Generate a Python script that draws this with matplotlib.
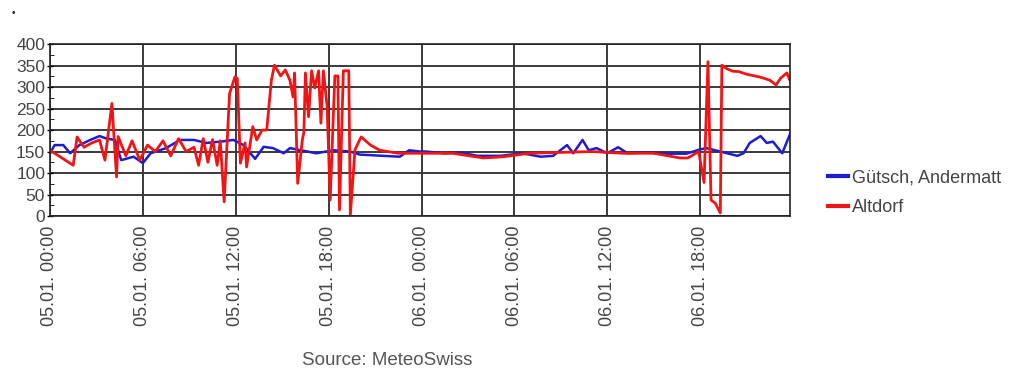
import matplotlib.pyplot as plt
from matplotlib.ticker import MultipleLocator

# hours since 05.01. 00:00
guetsch_t = [0, 0.3, 0.86, 1.3, 1.9, 2.6, 3.2, 3.66, 4.2, 4.6, 5.4, 6.0, 6.5, 7.5, 8.4,
             9.3, 10.1, 11.0, 11.85, 12.5, 13.25, 13.8, 14.4, 15.1, 15.5, 16.2, 17.2,
             18.3, 19.4, 20.0, 21.5, 22.6, 23.2, 23.9, 24.3, 25.5, 26.5, 27.6, 29.1,
             30.5, 31.7, 32.5, 33.4, 33.8, 34.4, 34.8, 35.3, 36.0, 36.7, 37.3, 38.5,
             39.85, 41.1, 42.0, 42.4, 43.3, 44.4, 44.8, 45.2, 45.9, 46.3, 46.7, 47.3, 47.83]
guetsch_v = [146, 165, 165, 146, 165, 177, 186, 180, 177, 130, 138, 123, 146, 158, 177,
             177, 170, 173, 177, 165, 133, 161, 158, 146, 158, 153, 146,
             153, 150, 143, 140, 138, 153, 150, 150, 146, 148, 140, 140,
             146, 138, 140, 165, 146, 177, 153, 158, 146, 160, 146, 148,
             145, 145, 155, 158, 150, 140, 146, 170, 186, 170, 173, 146, 193]

altdorf_t = [0, 1.5, 1.75, 2.2, 2.7, 3.2, 3.55, 4.0, 4.3, 4.4, 4.9, 5.3, 5.8, 6.3, 6.8,
             7.3, 7.8, 8.3, 8.8, 9.3, 9.6, 9.9, 10.2, 10.5, 10.8, 11.0, 11.25, 11.6,
             11.95, 12.1, 12.3, 12.6, 12.7, 13.1, 13.35, 13.7, 14.0, 14.3, 14.5, 14.9,
             15.2, 15.5, 15.7, 15.8, 16.0, 16.3, 16.4, 16.5, 16.7, 16.9, 17.1, 17.35,
             17.5, 17.66, 17.9, 18.1, 18.4, 18.6, 18.7, 18.95, 19.3, 19.4, 19.7, 20.1,
             20.7, 21.3, 22.5, 24.0, 26.0, 28.0, 29.3, 31.0, 33.0, 35.0, 37.0, 39.0,
             40.7, 41.2, 41.9, 42.25, 42.5, 42.7, 42.97, 43.3, 43.4, 43.7, 44.1, 44.5,
             45.0, 45.9, 46.5, 46.9, 47.2, 47.6, 47.83]
altdorf_v = [153, 118, 184, 160, 170, 177, 130, 262, 91, 185, 140, 175, 130, 165, 150,
             175, 140, 180, 150, 160, 118, 180, 125, 178, 118, 175, 33, 285,
             324, 320, 123, 170, 114, 208, 177, 200, 200, 316, 351, 326,
             340, 316, 277, 333, 76, 177, 195, 333, 231, 338, 298, 338,
             216, 338, 255, 37, 326, 326, 14, 338, 338, 2, 154, 184,
             165, 153, 146, 146, 146, 135, 138, 146, 148, 150, 146, 146,
             135, 135, 150, 78, 359, 37, 30, 7, 351, 343, 337, 336,
             330, 323, 316, 305, 321, 333, 313]

tick_hours = [0, 6, 12, 18, 24, 30, 36, 42]
tick_labels = ["05.01. 00:00", "05.01. 06:00", "05.01. 12:00", "05.01. 18:00",
               "06.01. 00:00", "06.01. 06:00", "06.01. 12:00", "06.01. 18:00"]

plt.rcParams["font.family"] = ["Liberation Sans", "DejaVu Sans"]
txt = "#444444"

fig = plt.figure(figsize=(10.16, 3.74), dpi=100)
ax = fig.add_axes([0.0492, 0.4225, 0.7288, 0.4595])

ax.plot(guetsch_t, guetsch_v, color="#1c1cd0", lw=1.8, label="Gütsch, Andermatt")
ax.plot(altdorf_t, altdorf_v, color="#f01414", lw=2.0, label="Altdorf")

ax.set_xlim(0, 47.83)
ax.set_ylim(0, 400)
ax.set_xticks(tick_hours)
ax.set_xticklabels(tick_labels, rotation=90, fontsize=13, color=txt)
ax.yaxis.set_major_locator(MultipleLocator(50))
ax.yaxis.set_minor_locator(MultipleLocator(25))
ax.tick_params(axis="y", labelsize=12.5, labelcolor=txt, direction="inout",
               length=5, width=1, pad=1)
ax.tick_params(axis="y", which="minor", direction="in", length=3)
ax.tick_params(axis="x", length=0, pad=7)
ax.grid(True, color="#3a3a3a", lw=1.4)
ax.set_axisbelow(True)
for s in ax.spines.values():
    s.set_color("#222222")
    s.set_linewidth(1.2)

leg = ax.legend(loc="upper left", bbox_to_anchor=(0.815, 0.548),
                bbox_transform=fig.transFigure, frameon=False, fontsize=13,
                handlelength=1.1, handletextpad=0.2, labelspacing=0.72,
                borderpad=0, borderaxespad=0)
for line in leg.get_lines():
    line.set_linewidth(3)
for t in leg.get_texts():
    t.set_color(txt)

fig.text(0.381, 0.037, "Source: MeteoSwiss", ha="center", va="center",
         fontsize=13.5, color="#555555")
fig.text(0.013, 0.965, "•", ha="center", va="center", fontsize=7, color="#222222")

fig.savefig("out.png", dpi=100)
